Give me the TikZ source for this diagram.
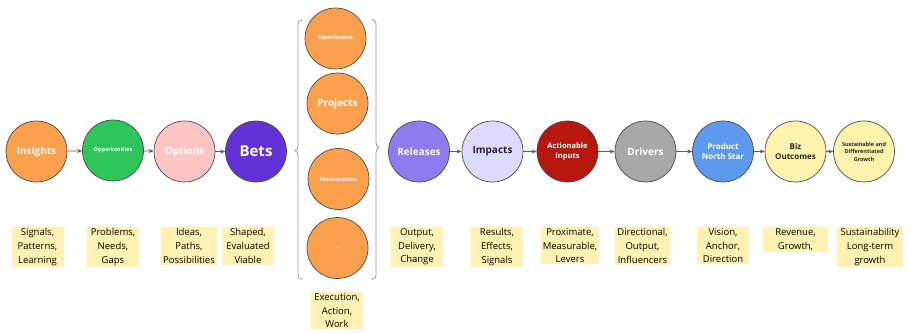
\documentclass[tikz,border=0pt]{standalone}
\usepackage{fontspec}
\setmainfont{Open Sans}
\usetikzlibrary{arrows.meta}
\definecolor{cOrange}{HTML}{FBA04C}
\definecolor{cGreen}{HTML}{2EC55B}
\definecolor{cPink}{HTML}{FFC5C5}
\definecolor{cPurple}{HTML}{6431D6}
\definecolor{cRelease}{HTML}{8E7BEF}
\definecolor{cLavender}{HTML}{DED9FF}
\definecolor{cRed}{HTML}{B7170C}
\definecolor{cGray}{HTML}{A8A8A8}
\definecolor{cBlue}{HTML}{5C9AEE}
\definecolor{cPale}{HTML}{FFF3AE}
\definecolor{cNote}{HTML}{FFF2B2}
\definecolor{cEdge}{HTML}{4A4A4A}
\tikzset{
  stage/.style={circle, draw=cEdge, line width=0.7pt, minimum size=61pt, inner sep=0pt, align=center, font=\bfseries},
  note/.style={fill=cNote, align=center, anchor=north, inner xsep=2pt, inner ysep=1.5pt, minimum width=52pt, font=\fontsize{9.5}{13.6}\selectfont},
  flow/.style={draw=cEdge!90, line width=0.7pt, -{Stealth[length=5pt,width=4pt]}},
  brace/.style={draw=gray!80, line width=0.8pt, line join=round}
}
\begin{document}
\begin{tikzpicture}[x=1pt,y=-1pt]
\useasboundingbox (0,0) rectangle (910,334);

% discovery stages
\node[stage, fill=cOrange, text=white, font=\bfseries\fontsize{10}{12}\selectfont] (ins) at (36.5,151.5) {Insights};
\node[stage, fill=cGreen, text=white, font=\bfseries\fontsize{5.5}{7}\selectfont] (opp) at (113,150.5) {Opportunities};
\node[stage, fill=cPink, text=white, font=\bfseries\fontsize{10}{12}\selectfont] (opt) at (184.5,151.5) {Options};
\node[stage, fill=cPurple, text=white, font=\bfseries\fontsize{15}{18}\selectfont] (bets) at (256,151.5) {Bets};

% delivery column
\node[stage, fill=cOrange, text=white, font=\bfseries\fontsize{5.5}{7}\selectfont] (exp) at (335.5,38.5) {Experiments};
\node[stage, fill=cOrange, text=white, font=\bfseries\fontsize{10}{12}\selectfont] (proj) at (337.5,103.5) {Projects};
\node[stage, fill=cOrange, text=white, font=\bfseries\fontsize{5.5}{7}\selectfont] (work) at (338.5,179) {Workstreams};
\node[stage, fill=cOrange, text=white, font=\bfseries\fontsize{5.5}{7}\selectfont] (more) at (337.5,248) {...};

% outcome stages
\node[stage, fill=cRelease, text=white, font=\bfseries\fontsize{10}{12}\selectfont] (rel) at (419,151.5) {Releases};
\node[stage, fill=cLavender, text=black!85, font=\bfseries\fontsize{10}{12}\selectfont] (imp) at (492.5,151.5) {Impacts};
\node[stage, fill=cRed, text=white, font=\bfseries\fontsize{7.5}{10}\selectfont] (act) at (567.5,151.5) {Actionable\\Inputs};
\node[stage, fill=cGray, text=white, font=\bfseries\fontsize{10}{12}\selectfont] (drv) at (645.5,151.5) {Drivers};
\node[stage, fill=cBlue, text=white, font=\bfseries\fontsize{8}{10.5}\selectfont] (pns) at (723,151.5) {Product\\North Star};
\node[stage, fill=cPale, text=black!85, font=\bfseries\fontsize{8}{10.5}\selectfont] (biz) at (795.5,151.5) {Biz\\Outcomes};
\node[stage, fill=cPale, text=black!85, font=\bfseries\fontsize{5.5}{7.5}\selectfont] (sus) at (864,151.5) {Sustainable and\\Differentiated\\Growth};

% connectors
\draw[flow] (ins) -- (opp);
\draw[flow] (opp) -- (opt);
\draw[flow] (opt) -- (bets);
\draw[flow] (rel) -- (imp);
\draw[flow] (imp) -- (act);
\draw[flow] (act) -- (drv);
\draw[flow] (drv) -- (pns);
\draw[flow] (pns) -- (biz);
\draw[flow] (biz) -- (sus);

% braces around the delivery column
\draw[brace] (303,20) .. controls (299,20) and (298,21) .. (298,25)
  -- (298,145) .. controls (298,148) and (297,150) .. (295,150.5)
  .. controls (297,151) and (298,153) .. (298,156)
  -- (298,274) .. controls (298,278) and (299,279) .. (303,279);
\draw[brace] (371,20) .. controls (375,20) and (376,21) .. (376,25)
  -- (376,142) .. controls (376,145) and (377,147) .. (379,147.5)
  .. controls (377,148) and (376,150) .. (376,153)
  -- (376,274) .. controls (376,278) and (375,279) .. (371,279);

% descriptions
\node[note] (n1) at (37.5,227) {Signals,\\Patterns,\\Learning};
\node[note] (n2) at (113,227) {Problems,\\Needs,\\Gaps};
\node[note] (n3) at (189,227) {Ideas,\\Paths,\\Possibilities};
\node[note] (n4) at (248,227) {Shaped,\\Evaluated\\Viable};
\node[note] (n5) at (337,292) {Execution,\\Action,\\Work};
\node[note] (n6) at (417,227) {Output,\\Delivery,\\Change};
\node[note] (n7) at (497,227) {Results,\\Effects,\\Signals};
\node[note] (n8) at (570,227) {Proximate,\\Measurable,\\Levers};
\node[note] (n9) at (642.5,227) {Directional,\\Output,\\Influencers};
\node[note] (n10) at (723,227) {Vision,\\Anchor,\\Direction};
\node[note, minimum width=65pt] (n11) at (795.5,227) {Revenue,\\Growth,};
\node[note, minimum width=66pt] (n12) at (870,227) {Sustainability\\Long-term\\growth};
\end{tikzpicture}
\end{document}
